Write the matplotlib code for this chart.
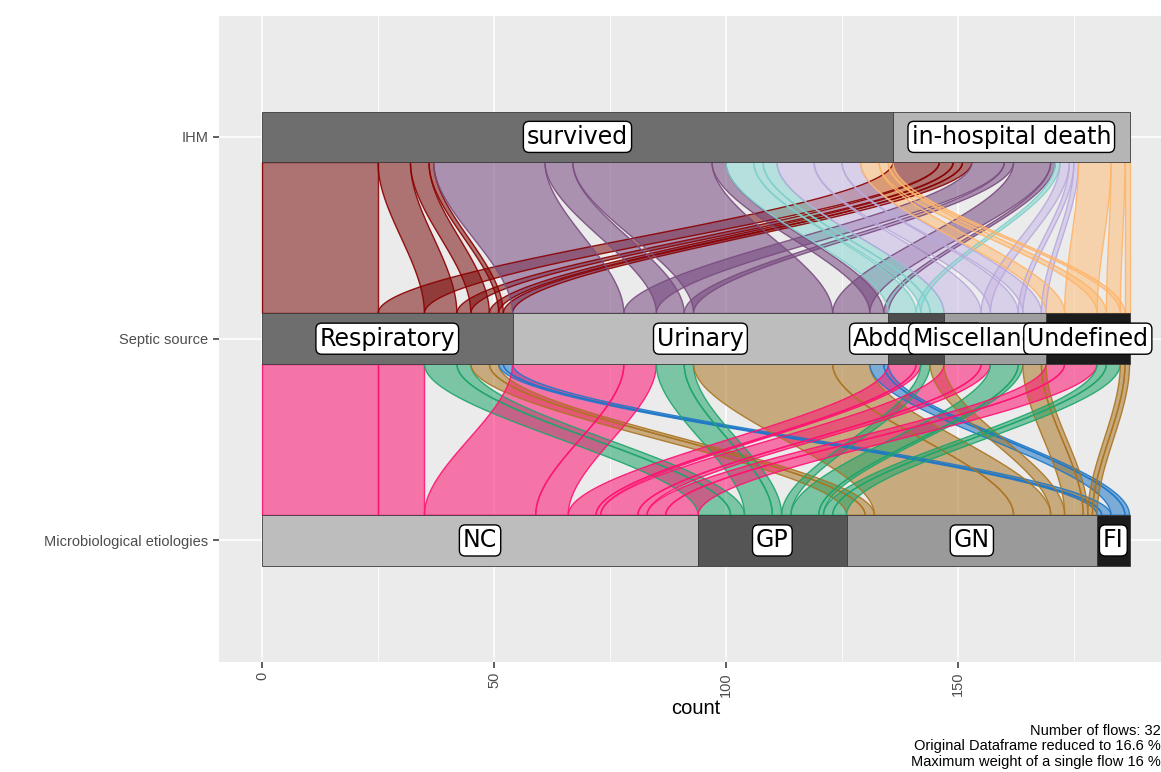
import numpy as np
import matplotlib
matplotlib.use("Agg")
from matplotlib import pyplot as plt
from matplotlib.patches import Polygon, Rectangle

plt.rcParams['font.family'] = ['Liberation Sans', 'DejaVu Sans']

# levels of each axis (left to right order of strata)
micro_levels = ["NC", "GP", "GN", "FI"]
source_levels = ["Respiratory", "Urinary", "Abdominal", "Miscellaneous", "Undefined"]
ihm_levels = ["survived", "in-hospital death"]

# one entry per alluvium: micro etiology, septic source, outcome, count
micro = ["NC", "NC", "GP", "GP", "GN", "GN", "FI", "FI",
         "NC", "NC", "GP", "GP", "GN", "GN", "FI", "FI",
         "NC", "NC", "GP", "GN",
         "NC", "NC", "GP", "GP", "GN", "GN",
         "NC", "NC", "GP", "GP", "GN", "GN"]
source = ["Respiratory"] * 8 + ["Urinary"] * 8 + ["Abdominal"] * 4 + ["Miscellaneous"] * 6 + ["Undefined"] * 6
ihm = ["survived", "in-hospital death", "survived", "in-hospital death",
       "survived", "in-hospital death", "survived", "in-hospital death",
       "survived", "in-hospital death", "survived", "in-hospital death",
       "survived", "in-hospital death", "survived", "in-hospital death",
       "survived", "in-hospital death", "survived", "survived",
       "survived", "in-hospital death", "survived", "in-hospital death",
       "survived", "in-hospital death",
       "survived", "in-hospital death", "survived", "in-hospital death",
       "survived", "in-hospital death"]
count = [25, 10, 7, 3, 4, 2, 1, 2,
         24, 7, 6, 2, 30, 8, 3, 1,
         6, 1, 2, 3,
         8, 2, 6, 1, 4, 1,
         4, 7, 2, 3, 1, 1]

axis_names = ["Microbiological etiologies", "Septic source", "IHM"]

# stratum fills (greys)
micro_grey = {"NC": "#bdbdbd", "GP": "#555555", "GN": "#9a9a9a", "FI": "#1c1c1c"}
source_grey = {"Respiratory": "#6e6e6e", "Urinary": "#bdbdbd", "Abdominal": "#4d4d4d",
               "Miscellaneous": "#9e9e9e", "Undefined": "#1c1c1c"}
ihm_grey = {"survived": "#6e6e6e", "in-hospital death": "#b5b5b5"}

# flow colours
micro_col = {"NC": "#ff1371", "GP": "#1fa56b", "GN": "#ab7523", "FI": "#1f78c8"}
source_col = {"Respiratory": "#7a0f0f", "Urinary": "#75477f", "Abdominal": "#89d7d3",
              "Miscellaneous": "#cabae6", "Undefined": "#ffbe79"}
source_edge = {"Respiratory": "#8b0000", "Urinary": "#7a4d80", "Abdominal": "#7fcfcb",
               "Miscellaneous": "#b9a9dc", "Undefined": "#ffb56a"}

levels = [micro_levels, source_levels, ihm_levels]
values = [micro, source, ihm]
greys = [micro_grey, source_grey, ihm_grey]
na = len(count)
ranks = [[levels[k].index(values[k][i]) for i in range(na)] for k in range(3)]
count = np.array(count, dtype=float)
total = count.sum()

# lode positions (zigzag-like ordering)
sort_orders = [(0, 1, 2), (1, 0, 2), (2, 1, 0)]
lo = np.zeros((3, na))
hi = np.zeros((3, na))
for k in range(3):
    keys = sorted(range(na), key=lambda i: tuple(ranks[j][i] for j in sort_orders[k]))
    pos = 0.0
    for i in keys:
        lo[k, i] = pos
        pos += count[i]
        hi[k, i] = pos

W = 0.25
ypos = [1, 2, 3]

fig = plt.figure(figsize=(11.61, 7.72), dpi=100)
ax = fig.add_axes([0.1883, 0.1431, 0.822, 0.8364])
ax.set_facecolor("#ebebeb")
for s in ax.spines.values():
    s.set_visible(False)

ax.set_xlim(-0.05 * total, total * 1.05)
ax.set_ylim(0.4, 3.6)
ax.set_xticks([0, 50, 100, 150])
ax.set_xticks([25, 75, 125, 175], minor=True)
ax.set_yticks(ypos)
ax.set_yticklabels(axis_names)
ax.grid(True, which="major", color="white", lw=1.1, zorder=0)
ax.grid(True, which="minor", axis="x", color="white", lw=0.55, zorder=0)
ax.tick_params(axis="x", which="major", labelrotation=90, labelsize=10.5, colors="#333333",
               labelcolor="#4d4d4d", length=4, width=1.1)
ax.tick_params(axis="x", which="minor", length=0)
ax.tick_params(axis="y", labelsize=10.5, colors="#333333", labelcolor="#4d4d4d", length=4, width=1.1)
ax.set_xlabel("count", fontsize=14.5, labelpad=2)
ax.set_axisbelow(True)

t = np.linspace(0, 1, 60)
sm = 3 * t ** 2 - 2 * t ** 3

# flows
for k in range(2):
    y0 = ypos[k] + W / 2
    y1 = ypos[k + 1] - W / 2
    yy = y0 + (y1 - y0) * t
    for i in range(na):
        if k == 0:
            fc = micro_col[micro[i]]
            ec = fc
        else:
            fc = source_col[source[i]]
            ec = source_edge[source[i]]
        left = lo[k, i] + (lo[k + 1, i] - lo[k, i]) * sm
        right = hi[k, i] + (hi[k + 1, i] - hi[k, i]) * sm
        xs = np.concatenate([left, right[::-1]])
        ys = np.concatenate([yy, yy[::-1]])
        ax.add_patch(Polygon(np.column_stack([xs, ys]), closed=True, fc=fc, alpha=0.55,
                             ec="none", zorder=2))
        ax.add_patch(Polygon(np.column_stack([xs, ys]), closed=True, fc="none",
                             ec=ec, lw=1.0, alpha=0.9, zorder=2.1))

# strata and labels (later labels sit on top of earlier ones, as in the original)
z = 5
for k in range(3):
    pos = 0.0
    for lev in levels[k]:
        n = sum(count[i] for i in range(na) if values[k][i] == lev)
        ax.add_patch(Rectangle((pos, ypos[k] - W / 2), n, W, fc=greys[k][lev],
                               ec="#3a3a3a", lw=0.6, zorder=4))
        ax.text(pos + n / 2, ypos[k], lev, ha="center", va="center", fontsize=17,
                family="DejaVu Sans", color="black", zorder=z,
                bbox=dict(boxstyle="round,pad=0.15,rounding_size=0.25", fc="white",
                          ec="black", lw=1.0))
        z += 1
        pos += n

fig.text(0.9995, 0.004,
         "Number of flows: 32\nOriginal Dataframe reduced to 16.6 %\nMaximum weight of a single flow 16 %",
         ha="right", va="bottom", fontsize=10.5, color="black", linespacing=1.15)

fig.savefig("out.png", dpi=100)
